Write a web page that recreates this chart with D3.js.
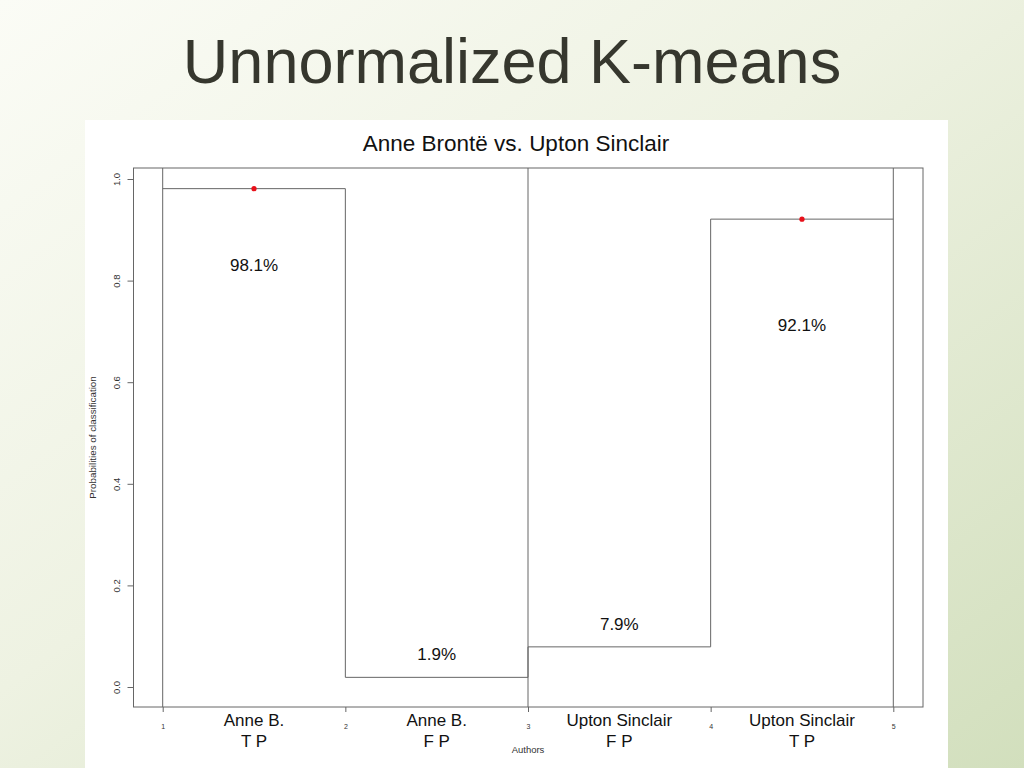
<!DOCTYPE html>
<html>
<head>
<meta charset="utf-8">
<script src="https://cdn.jsdelivr.net/npm/d3@7"></script>
<style>
  html, body { margin: 0; padding: 0; width: 1024px; height: 768px; overflow: hidden; }
  svg { display: block; }
</style>
</head>
<body>
<script>
// ---- data ----
const xPositions = [1, 2, 3, 4, 5];
const xTickLabels = ["1", "2", "3", "4", "5"];
const yTicks = [0.0, 0.2, 0.4, 0.6, 0.8, 1.0];
const categoryLine1 = ["Anne B.", "Anne B.", "Upton Sinclair", "Upton Sinclair"];
const categoryLine2 = ["T P", "F P", "F P", "T P"];
const probabilities = [0.981, 0.019, 0.079, 0.921];
const percentLabels = ["98.1%", "1.9%", "7.9%", "92.1%"];
const percentLabelAt = [0.83, 0.065, 0.124, 0.713];
const highlighted = [0, 3];
const dividers = [1, 3, 5];
const heading = "Unnormalized K-means";
const chartTitle = "Anne Brontë vs. Upton Sinclair";
const xTitle = "Authors";
const yTitle = "Probabilities of classification";

// ---- layout ----
const W = 1024, H = 768;
const svg = d3.select("body").append("svg").attr("width", W).attr("height", H);
const defs = svg.append("defs");
const grad = defs.append("linearGradient").attr("id", "bg")
  .attr("x1", "0%").attr("y1", "0%").attr("x2", "100%").attr("y2", "100%");
grad.append("stop").attr("offset", "0%").attr("stop-color", "#fbfcf6");
grad.append("stop").attr("offset", "45%").attr("stop-color", "#eef2e2");
grad.append("stop").attr("offset", "100%").attr("stop-color", "#d2dfbd");
svg.append("rect").attr("width", W).attr("height", H).attr("fill", "url(#bg)");

svg.append("text").attr("x", 512).attr("y", 83)
  .attr("text-anchor", "middle")
  .attr("font-family", "Liberation Sans, Arial, sans-serif")
  .attr("font-size", 63).attr("fill", "#36372e")
  .text(heading);

// white panel
svg.append("rect").attr("x", 85).attr("y", 120).attr("width", 863).attr("height", 648).attr("fill", "#ffffff");

const font = "Liberation Sans, Arial, Helvetica, sans-serif";
const lineCol = "#666";

const box = { left: 133.5, right: 923, top: 168, bottom: 707 };
const x = d3.scaleLinear().domain([1, 5]).range([162.7, 893.3]);
const y = d3.scaleLinear().domain([0, 1]).range([687, 179]);

const g = svg.append("g");

// box
g.append("rect").attr("x", box.left).attr("y", box.top)
  .attr("width", box.right - box.left).attr("height", box.bottom - box.top)
  .attr("fill", "none").attr("stroke", lineCol).attr("stroke-width", 1);

// vertical dividers
g.selectAll("line.div").data(dividers).join("line")
  .attr("x1", d => x(d)).attr("x2", d => x(d))
  .attr("y1", box.top).attr("y2", box.bottom)
  .attr("stroke", lineCol).attr("stroke-width", 1);

// step line
const stepPts = [];
probabilities.forEach((p, i) => { stepPts.push([xPositions[i], p]); stepPts.push([xPositions[i + 1], p]); });
const line = d3.line().x(d => x(d[0])).y(d => y(d[1]));
g.append("path").attr("d", line(stepPts)).attr("fill", "none")
  .attr("stroke", lineCol).attr("stroke-width", 1);

// red dots
g.selectAll("circle").data(highlighted).join("circle")
  .attr("cx", i => x((xPositions[i] + xPositions[i + 1]) / 2))
  .attr("cy", i => y(probabilities[i]))
  .attr("r", 2.6).attr("fill", "#e8101a");

// percent labels
g.selectAll("text.pct").data(percentLabels).join("text")
  .attr("x", (d, i) => x((xPositions[i] + xPositions[i + 1]) / 2))
  .attr("y", (d, i) => y(percentLabelAt[i]))
  .attr("dy", "0.35em").attr("text-anchor", "middle")
  .attr("font-family", font).attr("font-size", 17).attr("fill", "#111")
  .text(d => d);

// y axis
const yAxis = d3.axisLeft(y).tickValues(yTicks).tickFormat(d3.format(".1f")).tickSize(6).tickPadding(0);
const ya = g.append("g").attr("transform", `translate(${box.left},0)`).call(yAxis);
ya.select(".domain").remove();
ya.selectAll(".tick line").attr("stroke", lineCol);
ya.selectAll(".tick text").remove();
ya.selectAll(".tick").append("text")
  .attr("transform", "translate(-17,0) rotate(-90)")
  .attr("text-anchor", "middle").attr("dy", "0.35em")
  .attr("font-family", font).attr("font-size", 9.5).attr("fill", "#333")
  .text(d => d3.format(".1f")(d));

// x axis
const xAxis = d3.axisBottom(x).tickValues(xPositions).tickFormat((d, i) => xTickLabels[i]).tickSize(5).tickPadding(0);
const xa = g.append("g").attr("transform", `translate(0,${box.bottom})`).call(xAxis);
xa.select(".domain").remove();
xa.selectAll(".tick line").attr("stroke", lineCol);
xa.selectAll(".tick text").attr("y", 22).attr("dy", 0).attr("font-family", font).attr("font-size", 7).attr("fill", "#333");

// category labels
const cats = g.selectAll("g.cat").data(categoryLine1).join("g")
  .attr("transform", (d, i) => `translate(${x((xPositions[i] + xPositions[i + 1]) / 2)},0)`);
cats.append("text").attr("y", 726).attr("text-anchor", "middle")
  .attr("font-family", font).attr("font-size", 17).attr("fill", "#111").text(d => d);
cats.append("text").attr("y", 747).attr("text-anchor", "middle")
  .attr("font-family", font).attr("font-size", 17).attr("fill", "#111").text((d, i) => categoryLine2[i]);

// axis titles
g.append("text").attr("x", x(3)).attr("y", 753).attr("text-anchor", "middle")
  .attr("font-family", font).attr("font-size", 9.5).attr("fill", "#333").text(xTitle);
g.append("text").attr("transform", `translate(96,${(box.top + box.bottom) / 2}) rotate(-90)`)
  .attr("text-anchor", "middle")
  .attr("font-family", font).attr("font-size", 9.8).attr("fill", "#333").text(yTitle);

// chart title
g.append("text").attr("x", 516).attr("y", 151).attr("text-anchor", "middle")
  .attr("font-family", font).attr("font-size", 22.5).attr("fill", "#111").text(chartTitle);
</script>
</body>
</html>
